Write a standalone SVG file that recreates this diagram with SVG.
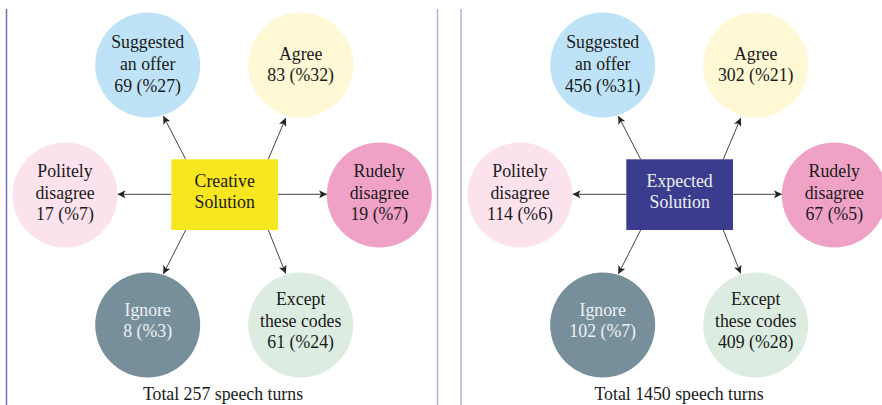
<svg xmlns="http://www.w3.org/2000/svg" width="882" height="405" viewBox="0 0 882 405" font-family="'Liberation Serif', 'Times New Roman', Tinos, 'DejaVu Serif', serif">
<defs>
<marker id="ah" viewBox="0 0 10 10" refX="10" refY="5" markerWidth="8" markerHeight="8" markerUnits="userSpaceOnUse" orient="auto">
<path d="M0,0 L10,5 L0,10 L2.5,5 Z" fill="#222"/>
</marker>
<style>
text{font-family:'Liberation Serif','Times New Roman',Tinos,'DejaVu Serif',serif;font-size:17.8px;fill:#1a1a1a;text-anchor:middle}
.w{fill:#eef2f4}
.c{stroke:#444;stroke-width:1;fill:none;marker-end:url(#ah)}
.sug{fill:#bfe3f6}.agr{fill:#fef8d4}.pol{fill:#fce2ed}.rud{fill:#f0a2c6}.ign{fill:#778f9b}.exc{fill:#dcece0}
.sep{stroke:#b0b2e2;stroke-width:1.5}
</style>
</defs>
<rect width="882" height="405" fill="#fff"/>
<line x1="6.5" y1="9" x2="6.5" y2="405" stroke="#7070c0" stroke-width="1.5"/>
<line class="sep" x1="437.5" y1="9" x2="437.5" y2="405"/>
<line class="sep" x1="461" y1="9" x2="461" y2="405"/>

<g id="left">
<g id="connectors-left">
<line class="c" x1="185.7" y1="159.3" x2="163.3" y2="116"/>
<line class="c" x1="268.3" y1="159.3" x2="285.7" y2="118"/>
<line class="c" x1="171.3" y1="194.3" x2="117.5" y2="194.3"/>
<line class="c" x1="278" y1="194.3" x2="327" y2="194.3"/>
<line class="c" x1="185.7" y1="230" x2="163.3" y2="274"/>
<line class="c" x1="268.3" y1="230" x2="285.7" y2="273.5"/>
</g>
<g id="l-center"><rect x="171.3" y="159.3" width="106.7" height="70.7" fill="#f8e71f"/><text x="224.7" y="186.7">Creative</text><text x="224.7" y="208.3">Solution</text></g>
<g id="l-suggested"><circle class="sug" cx="147.7" cy="65" r="52.5"/><text x="147.7" y="48.3">Suggested</text><text x="147.7" y="70">an offer</text><text x="147.7" y="91.5">69 (%27)</text></g>
<g id="l-agree"><circle class="agr" cx="300.7" cy="65" r="52.5"/><text x="300.7" y="59.5">Agree</text><text x="300.7" y="81">83 (%32)</text></g>
<g id="l-polite"><circle class="pol" cx="65" cy="195" r="52.5"/><text x="65" y="177">Politely</text><text x="65" y="198.5">disagree</text><text x="65" y="220">17 (%7)</text></g>
<g id="l-rude"><circle class="rud" cx="379.3" cy="195" r="52.5"/><text x="379.3" y="177">Rudely</text><text x="379.3" y="198.5">disagree</text><text x="379.3" y="220">19 (%7)</text></g>
<g id="l-ignore"><circle class="ign" cx="147.7" cy="325" r="52.5"/><text class="w" x="147.7" y="316">Ignore</text><text class="w" x="147.7" y="337.3">8 (%3)</text></g>
<g id="l-except"><circle class="exc" cx="300.7" cy="325" r="52.5"/><text x="300.7" y="305">Except</text><text x="300.7" y="326.7">these codes</text><text x="300.7" y="348.3">61 (%24)</text></g>
<text x="223" y="399.5">Total 257 speech turns</text>
</g>

<g id="right">
<g id="connectors-right">
<line class="c" x1="640.7" y1="159.3" x2="618.3" y2="116"/>
<line class="c" x1="723.3" y1="159.3" x2="740.7" y2="118"/>
<line class="c" x1="626.3" y1="194.3" x2="572.5" y2="194.3"/>
<line class="c" x1="733" y1="194.3" x2="782" y2="194.3"/>
<line class="c" x1="640.7" y1="230" x2="618.3" y2="274"/>
<line class="c" x1="723.3" y1="230" x2="740.7" y2="273.5"/>
</g>
<g id="r-center"><rect x="626.3" y="159.3" width="106.7" height="70.7" fill="#3b3c8e"/><text class="w" x="679.7" y="186.7">Expected</text><text class="w" x="679.7" y="208.3">Solution</text></g>
<g id="r-suggested"><circle class="sug" cx="602.7" cy="65" r="52.5"/><text x="602.7" y="48.3">Suggested</text><text x="602.7" y="70">an offer</text><text x="602.7" y="91.5">456 (%31)</text></g>
<g id="r-agree"><circle class="agr" cx="755.7" cy="65" r="52.5"/><text x="755.7" y="59.5">Agree</text><text x="755.7" y="81">302 (%21)</text></g>
<g id="r-polite"><circle class="pol" cx="520" cy="195" r="52.5"/><text x="520" y="177">Politely</text><text x="520" y="198.5">disagree</text><text x="520" y="220">114 (%6)</text></g>
<g id="r-rude"><circle class="rud" cx="834.3" cy="195" r="52.5"/><text x="834.3" y="177">Rudely</text><text x="834.3" y="198.5">disagree</text><text x="834.3" y="220">67 (%5)</text></g>
<g id="r-ignore"><circle class="ign" cx="602.7" cy="325" r="52.5"/><text class="w" x="602.7" y="316">Ignore</text><text class="w" x="602.7" y="337.3">102 (%7)</text></g>
<g id="r-except"><circle class="exc" cx="755.7" cy="325" r="52.5"/><text x="755.7" y="305">Except</text><text x="755.7" y="326.7">these codes</text><text x="755.7" y="348.3">409 (%28)</text></g>
<text x="679" y="399.5">Total 1450 speech turns</text>
</g>
</svg>
